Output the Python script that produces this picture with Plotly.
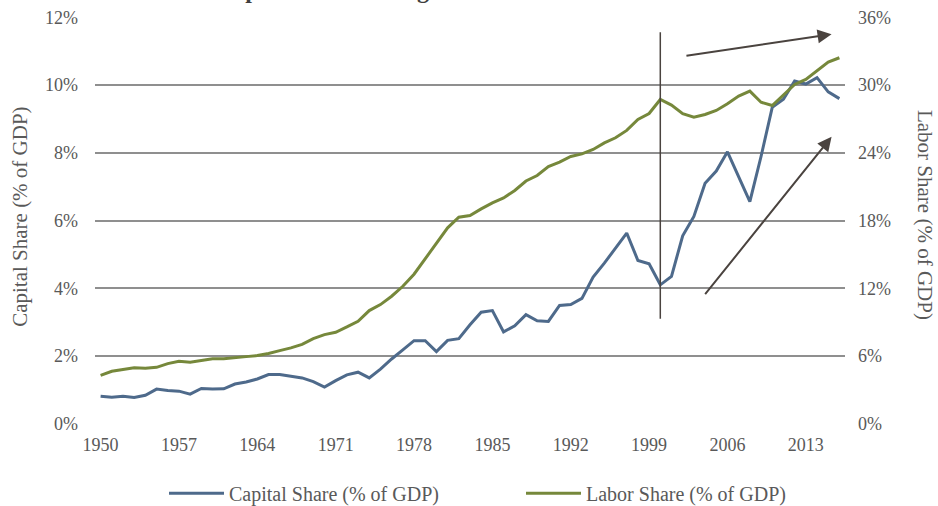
import plotly.graph_objects as go

years = list(range(1950, 2017))

capital_share = [
    0.81, 0.78, 0.81, 0.77, 0.84, 1.02, 0.98, 0.96, 0.87, 1.04,
    1.02, 1.03, 1.17, 1.23, 1.32, 1.45, 1.45, 1.40, 1.35, 1.24,
    1.08, 1.27, 1.44, 1.52, 1.35, 1.61, 1.91, 2.18, 2.45, 2.45,
    2.13, 2.46, 2.51, 2.92, 3.29, 3.34, 2.71, 2.89, 3.22, 3.04,
    3.02, 3.49, 3.52, 3.70, 4.33, 4.74, 5.20, 5.63, 4.82, 4.72,
    4.10, 4.35, 5.55, 6.12, 7.10, 7.46, 8.03, 7.30, 6.56, 7.89,
    9.34, 9.58, 10.12, 10.03, 10.22, 9.80, 9.60,
]

labor_share = [
    4.28, 4.64, 4.79, 4.96, 4.90, 4.99, 5.32, 5.53, 5.44, 5.61,
    5.76, 5.76, 5.88, 5.94, 6.03, 6.21, 6.47, 6.71, 7.03, 7.54,
    7.89, 8.10, 8.57, 9.07, 10.02, 10.55, 11.29, 12.17, 13.24, 14.60,
    15.95, 17.35, 18.29, 18.44, 19.03, 19.56, 20.00, 20.66, 21.50, 21.99,
    22.78, 23.17, 23.67, 23.90, 24.29, 24.88, 25.33, 25.98, 26.95, 27.48,
    28.72, 28.22, 27.46, 27.16, 27.39, 27.75, 28.34, 29.02, 29.46, 28.48,
    28.19, 29.08, 30.05, 30.50, 31.29, 32.03, 32.42,
]

year_ticks = [1950, 1957, 1964, 1971, 1978, 1985, 1992, 1999, 2006, 2013]
capital_ticks = [0, 2, 4, 6, 8, 10, 12]
capital_labels = ["0%", "2%", "4%", "6%", "8%", "10%", "12%"]
labor_ticks = [0, 6, 12, 18, 24, 30, 36]
labor_labels = ["0%", "6%", "12%", "18%", "24%", "30%", "36%"]

BLUE = "#4e6a8b"
GREEN = "#76883b"
GREY_TXT = "#595959"
GRID = "#8f8f8f"
ARROW = "#4a433f"
FONT = "Liberation Serif"

fig = go.Figure()

fig.add_trace(go.Scatter(
    x=years, y=capital_share,
    name="Capital Share (% of GDP)",
    mode="lines",
    line=dict(color=BLUE, width=3),
    yaxis="y",
))

fig.add_trace(go.Scatter(
    x=years, y=labor_share,
    name="Labor Share (% of GDP)",
    mode="lines",
    line=dict(color=GREEN, width=3),
    yaxis="y2",
))

# vertical marker at 2000
fig.add_shape(type="line", xref="x", yref="y",
              x0=2000, x1=2000, y0=3.1, y1=11.56,
              line=dict(color=ARROW, width=1.5))

# trend arrows
for (x0, y0, x1, y1) in [(2002.2, 10.86, 2015.3, 11.5),
                         (2003.9, 3.78, 2015.3, 8.47)]:
    fig.add_annotation(
        x=x1, y=y1, ax=x0, ay=y0,
        xref="x", yref="y", axref="x", ayref="y",
        showarrow=True, arrowhead=2, arrowsize=1.4,
        arrowwidth=2, arrowcolor=ARROW, text="",
    )

# axis titles
fig.add_annotation(
    text="Capital Share (% of GDP)", textangle=-90,
    xref="paper", yref="paper", x=-0.1, y=0.509,
    xanchor="center", yanchor="middle",
    showarrow=False, font=dict(size=21, color=GREY_TXT, family=FONT),
)
fig.add_annotation(
    text="Labor Share (% of GDP)", textangle=90,
    xref="paper", yref="paper", x=1.107, y=0.513,
    xanchor="center", yanchor="middle",
    showarrow=False, font=dict(size=21, color=GREY_TXT, family=FONT),
)

# title (cut off at the top of the image)
fig.add_annotation(
    text="<b>Capital Share Rising Faster Than Labor Share</b>",
    xref="paper", yref="paper", x=0.481, y=1.0305, yanchor="bottom",
    showarrow=False, font=dict(size=24, color="#3f3f3f", family=FONT),
)

fig.update_layout(
    width=938, height=506,
    margin=dict(l=95, r=93, t=17, b=82, autoexpand=False),
    paper_bgcolor="white",
    plot_bgcolor="white",
    font=dict(family=FONT, color=GREY_TXT, size=18),
    xaxis=dict(
        range=[1949.5, 2016.5],
        tickvals=year_ticks,
        showgrid=False, zeroline=False,
        showline=False,
        ticks="", ticklabelstandoff=8,
        tickfont=dict(size=18, color=GREY_TXT),
    ),
    yaxis=dict(
        range=[-0.01, 12.01],
        tickvals=capital_ticks, ticktext=capital_labels,
        showgrid=True, gridcolor=GRID, gridwidth=1.5,
        zeroline=False, showline=False,
        ticks="", ticklabelstandoff=16,
        tickfont=dict(size=18, color=GREY_TXT),
    ),
    yaxis2=dict(
        range=[-0.03, 36.03],
        tickvals=labor_ticks, ticktext=labor_labels,
        overlaying="y", side="right",
        showgrid=False, zeroline=False, showline=False,
        ticks="", ticklabelstandoff=12,
        tickfont=dict(size=18, color=GREY_TXT),
    ),
    legend=dict(
        orientation="h", x=0.092, xanchor="left",
        y=-0.122, yanchor="top",
        font=dict(size=20, color=GREY_TXT),
        itemwidth=55, entrywidth=287,
    ),
    showlegend=True,
)

# the default page adds an 8px body margin; drop it so the figure fills the window
fig.write_html(
    "out.html",
    config={"displayModeBar": False},
    post_script="document.body.style.margin = '0';",
)
